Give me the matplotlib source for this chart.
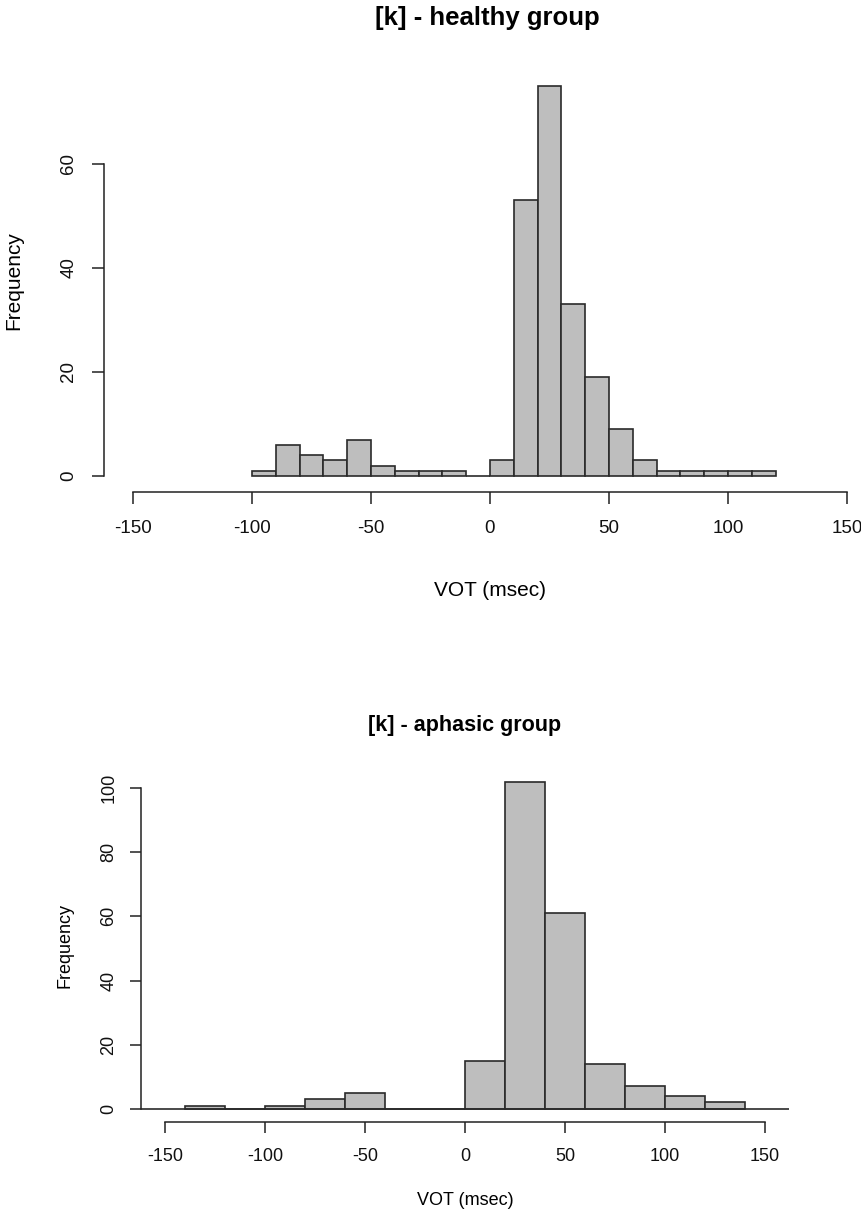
import numpy as np
import matplotlib
matplotlib.use("Agg")
import matplotlib.pyplot as plt

plt.rcParams['font.family'] = ['Liberation Sans', 'DejaVu Sans']

# Healthy group: 10 ms bins from -100 to 120
healthy_edges = np.arange(-100, 121, 10)
healthy_counts = [1, 6, 4, 3, 7, 2, 1, 1, 1, 0,
                  3, 53, 75, 33, 19, 9, 3, 1, 1, 1, 1, 1]

# Aphasic group: 20 ms bins from -140 to 140
aphasic_edges = np.arange(-140, 141, 20)
aphasic_counts = [1, 0, 1, 3, 5, 0, 0, 15, 102, 61, 14, 7, 4, 2]

x_ticks = [-150, -100, -50, 0, 50, 100, 150]
healthy_yticks = [0, 20, 40, 60]
aphasic_yticks = [0, 20, 40, 60, 80, 100]

W, H = 861, 1214
fig = plt.figure(figsize=(W / 100, H / 100), dpi=100)

FILL = '#bebebe'
EDGE = '#2a2a2a'


def px_axes(left, top, right, bottom):
    return fig.add_axes([left / W, 1 - bottom / H, (right - left) / W, (bottom - top) / H])


def r_style(ax, xlim, ymax, yticks, tick_fs, tick_len, ypad, xpad):
    ext = 0.04
    ax.set_xlim(xlim[0] - ext * (xlim[1] - xlim[0]), xlim[1] + ext * (xlim[1] - xlim[0]))
    ax.set_ylim(-ext * ymax, ymax * (1 + ext))
    for s in ('top', 'right'):
        ax.spines[s].set_visible(False)
    ax.spines['left'].set_bounds(yticks[0], yticks[-1])
    ax.spines['bottom'].set_bounds(x_ticks[0], x_ticks[-1])
    for s in ('left', 'bottom'):
        ax.spines[s].set_linewidth(1.1)
        ax.spines[s].set_color('#222222')
    ax.set_xticks(x_ticks)
    ax.set_xticklabels([str(t) for t in x_ticks])
    ax.set_yticks(yticks)
    ax.set_yticklabels([str(t) for t in yticks], rotation=90, va='center')
    ax.tick_params(axis='both', direction='out', length=tick_len, width=1.1,
                   color='#222222', labelsize=tick_fs, labelcolor='#111111')
    ax.tick_params(axis='y', pad=ypad)
    ax.tick_params(axis='x', pad=xpad)


# ---- healthy group ----
ax1 = px_axes(104.4, 70.4, 875.5, 491.6)
ax1.bar(healthy_edges[:-1], healthy_counts, width=10, align='edge',
        color=FILL, edgecolor=EDGE, linewidth=1.2)
r_style(ax1, (-150, 150), max(healthy_counts), healthy_yticks, 13.5, 8.5, 11, 12)
ax1.set_ylabel('Frequency', fontsize=15, va='center')
ax1.yaxis.set_label_coords(-0.117, 0.5)
ax1.set_xlabel('VOT (msec)', fontsize=15, va='center')
ax1.xaxis.set_label_coords(0.5, -0.234)
fig.text(487 / W, 1 - 18 / H, '[k] - healthy group', fontsize=18.5,
         fontweight='bold', ha='center', va='center')

# ---- aphasic group ----
ax2 = px_axes(141, 768.5, 789, 1122)
ax2.bar(aphasic_edges[:-1], aphasic_counts, width=20, align='edge',
        color=FILL, edgecolor=EDGE, linewidth=1.2)
ax2.axhline(0, color=EDGE, linewidth=1.2)
r_style(ax2, (-150, 150), max(aphasic_counts), aphasic_yticks, 13, 8, 9, 11)
ax2.set_ylabel('Frequency', fontsize=13, va='center')
ax2.yaxis.set_label_coords(-0.117, 0.5)
ax2.set_xlabel('VOT (msec)', fontsize=13, va='center')
ax2.xaxis.set_label_coords(0.5, -0.221)
fig.text(465 / W, 1 - 726 / H, '[k] - aphasic group', fontsize=15.5,
         fontweight='bold', ha='center', va='center')

fig.savefig('out.png', dpi=100)
